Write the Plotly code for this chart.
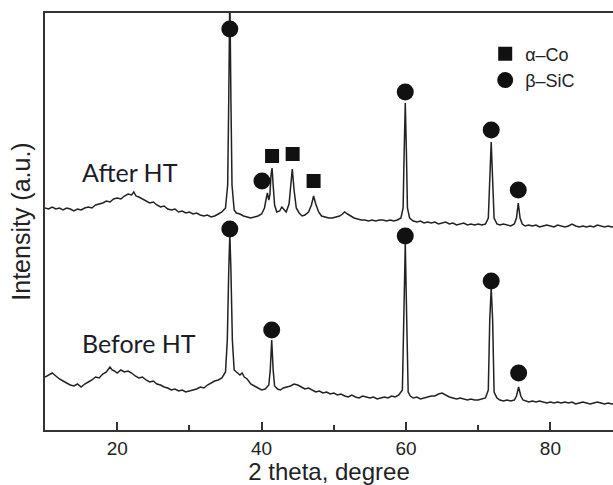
import plotly.graph_objects as go

# ---- data (2 theta in degrees, intensity in arbitrary units) ----
after_x = [10.0, 10.5, 11.0, 11.5, 12.0, 12.5, 13.0, 13.5, 14.0, 14.5, 15.0, 15.5, 16.0, 16.5,
           17.0, 17.5, 18.0, 18.5, 19.0, 19.5, 20.0, 20.5, 21.0, 21.5, 22.0, 22.3, 22.6, 23.0,
           23.5, 24.0, 24.5, 25.0, 25.5, 26.0, 26.5, 27.0, 27.5, 28.0, 28.5, 29.0, 29.5, 30.0,
           30.5, 31.0, 31.5, 32.0, 32.5, 33.0, 33.5, 34.0, 34.5, 35.0, 35.3, 35.45, 35.6, 35.75,
           35.9, 36.2, 36.5, 37.0, 37.5, 38.0, 38.5, 39.0, 39.5, 40.0, 40.4, 40.6, 40.8, 41.0,
           41.15, 41.3, 41.45, 41.6, 41.8, 42.1, 42.5, 42.8, 43.1, 43.4, 43.8, 44.0, 44.25, 44.5,
           44.8, 45.2, 45.6, 46.0, 46.5, 46.9, 47.2, 47.5, 47.9, 48.3, 48.8, 49.3, 49.8, 50.3,
           50.8, 51.2, 51.5, 51.9, 52.3, 52.8, 53.3, 53.8, 54.3, 54.8, 55.3, 55.8, 56.3, 56.8,
           57.3, 57.8, 58.3, 58.8, 59.3, 59.6, 59.75, 59.9, 60.05, 60.2, 60.5, 61.0, 61.5, 62.0,
           62.5, 63.0, 63.5, 64.0, 64.5, 65.0, 65.5, 66.0, 66.5, 67.0, 67.5, 68.0, 68.5, 69.0,
           69.5, 70.0, 70.5, 71.0, 71.4, 71.6, 71.8, 72.0, 72.2, 72.6, 73.0, 73.5, 74.0, 74.5,
           75.0, 75.3, 75.55, 75.8, 76.1, 76.5, 77.0, 77.5, 78.0, 78.5, 79.0, 79.5, 80.0, 80.5,
           81.0, 81.5, 82.0, 82.5, 83.0, 83.5, 84.0, 84.5, 85.0, 85.5, 86.0, 86.5, 87.0, 87.5,
           88.0, 88.5, 89.0]
after_y = [222, 221, 223, 221, 222, 220, 222, 221, 219, 221, 220, 222, 223, 222,
           225, 226, 227, 229, 228, 231, 232, 231, 234, 236, 235, 238, 234, 233,
           231, 229, 227, 228, 225, 223, 224, 221, 220, 221, 218, 219, 217, 218,
           216, 217, 215, 214, 215, 213, 214, 216, 218, 222, 245, 330, 440, 330,
           245, 220, 217, 216, 214, 213, 212, 213, 214, 216, 222, 230, 237, 230,
           235, 255, 262, 245, 225, 218, 219, 223, 220, 218, 226, 245, 261, 240,
           222, 217, 214, 215, 218, 225, 234, 226, 218, 214, 213, 212, 212, 213,
           214, 216, 218, 216, 214, 212, 211, 210, 210, 209, 210, 209, 210, 210,
           209, 210, 209, 210, 212, 222, 280, 327, 280, 222, 212, 209, 208, 209,
           207, 208, 207, 208, 206, 207, 208, 206, 207, 205, 206, 207, 205, 206,
           205, 206, 205, 206, 212, 250, 288, 250, 212, 206, 205, 206, 205, 204,
           206, 212, 227, 212, 206, 204, 205, 204, 205, 203, 204, 205, 204, 203,
           205, 204, 203, 204, 206, 204, 203, 204, 203, 204, 203, 205, 204, 203,
           204, 203, 204]

before_x = [10.0, 10.5, 11.0, 11.5, 12.0, 12.5, 13.0, 13.5, 14.0, 14.5, 15.0, 15.5, 16.0, 16.5,
            17.0, 17.5, 18.0, 18.5, 19.0, 19.3, 19.6, 20.0, 20.5, 21.0, 21.5, 22.0, 22.5, 23.0,
            23.5, 24.0, 24.5, 25.0, 25.5, 26.0, 26.5, 27.0, 27.5, 28.0, 28.5, 29.0, 29.5, 30.0,
            30.5, 31.0, 31.5, 32.0, 32.5, 33.0, 33.5, 34.0, 34.5, 35.0, 35.25, 35.45, 35.6, 35.75,
            35.95, 36.2, 36.5, 37.0, 37.3, 37.6, 38.0, 38.5, 39.0, 39.5, 40.0, 40.5, 41.0, 41.2,
            41.4, 41.6, 41.8, 42.2, 42.6, 43.0, 43.5, 44.0, 44.5, 45.0, 45.5, 46.0, 46.5, 47.0,
            47.5, 48.0, 48.5, 49.0, 49.5, 50.0, 50.5, 51.0, 51.5, 52.0, 52.5, 53.0, 53.5, 54.0,
            54.5, 55.0, 55.5, 56.0, 56.5, 57.0, 57.5, 58.0, 58.5, 59.0, 59.5, 59.7, 59.9, 60.1,
            60.3, 60.6, 61.0, 61.5, 62.0, 62.5, 63.0, 63.5, 64.0, 64.5, 65.0, 65.5, 66.0, 66.5,
            67.0, 67.5, 68.0, 68.5, 69.0, 69.5, 70.0, 70.5, 71.0, 71.4, 71.6, 71.8, 72.0, 72.2,
            72.6, 73.0, 73.5, 74.0, 74.5, 75.0, 75.3, 75.6, 75.9, 76.2, 76.5, 77.0, 77.5, 78.0,
            78.5, 79.0, 79.5, 80.0, 80.5, 81.0, 81.5, 82.0, 82.5, 83.0, 83.5, 84.0, 84.5, 85.0,
            85.5, 86.0, 86.5, 87.0, 87.5, 88.0, 88.5, 89.0]
before_y = [53, 55, 57, 54, 51, 49, 47, 45, 44, 46, 43, 46, 48, 50,
            53, 52, 56, 58, 63, 60, 59, 57, 60, 58, 59, 57, 54, 52,
            53, 50, 48, 49, 46, 45, 43, 42, 40, 41, 39, 40, 38, 39,
            40, 41, 43, 42, 45, 47, 49, 50, 52, 58, 90, 160, 196, 160,
            90, 60, 58, 55, 57, 53, 51, 46, 44, 42, 40, 41, 45, 60,
            90, 60, 44, 41, 40, 42, 43, 44, 46, 45, 43, 41, 42, 40,
            38, 39, 37, 38, 36, 37, 35, 36, 34, 33, 35, 33, 32, 34,
            33, 32, 33, 31, 32, 33, 32, 34, 33, 35, 40, 110, 187, 110,
            38, 34, 32, 33, 31, 32, 33, 34, 34, 36, 37, 35, 33, 32,
            31, 32, 31, 30, 31, 30, 30, 31, 32, 40, 110, 142, 110, 38,
            32, 30, 29, 30, 29, 30, 34, 43, 34, 30, 29, 28, 29, 28,
            29, 28, 27, 28, 27, 28, 27, 28, 27, 28, 26, 27, 28, 27,
            26, 27, 28, 27, 26, 27, 26, 27]

# phase markers
sic_x = [35.6, 40.05, 59.9, 71.8, 75.55, 35.6, 41.4, 59.9, 71.8, 75.6]
sic_y = [401, 249, 338, 300, 240, 201, 100, 194, 149, 57]
co_x = [41.45, 44.3, 47.2]
co_y = [274, 276, 249]

x_ticks = [20, 40, 60, 80]
sample_labels = ["After HT", "Before HT"]
label_x = [14.85, 14.85]
label_y = [258, 87]

LINE = "#222222"

fig = go.Figure()
fig.add_trace(go.Scatter(x=after_x, y=after_y, mode="lines",
                         line=dict(color=LINE, width=1.5), showlegend=False))
fig.add_trace(go.Scatter(x=before_x, y=before_y, mode="lines",
                         line=dict(color=LINE, width=1.5), showlegend=False))
fig.add_trace(go.Scatter(x=co_x, y=co_y, mode="markers", name="α–Co", legendgroup="co",
                         marker=dict(symbol="square", size=14, color="#111111")))
fig.add_trace(go.Scatter(x=sic_x, y=sic_y, mode="markers", name="β–SiC", legendgroup="sic",
                         marker=dict(symbol="circle", size=17, color="#111111")))

for t, lx, ly in zip(sample_labels, label_x, label_y):
    fig.add_annotation(x=lx, y=ly, text=t, showarrow=False, xanchor="left", yanchor="middle",
                       font=dict(family="Lato", size=25, color="#1c1c26"))

fig.update_layout(
    width=613, height=485,
    margin=dict(l=45, r=0, t=13, b=55),
    paper_bgcolor="white", plot_bgcolor="white",
    font=dict(family="Liberation Sans, Arial", color="#222222"),
    legend=dict(x=0.775, y=0.946, xanchor="left", yanchor="top",
                font=dict(size=18, color="#222222"), tracegroupgap=0,
                bgcolor="rgba(0,0,0,0)"),
    xaxis=dict(range=[10, 88.67], tickmode="array", tickvals=x_ticks,
               ticks="inside", ticklen=8, tickwidth=1.5, tickcolor="#333333",
               minor=dict(tickvals=[30, 50, 70], ticks="inside", ticklen=5,
                          tickwidth=1.5, tickcolor="#333333"),
               showline=True, linewidth=1.6, linecolor="#333333", mirror=True,
               showgrid=False, zeroline=False, automargin=False,
               tickfont=dict(size=19),
               title=dict(text="2 theta, degree", font=dict(size=24), standoff=9)),
    yaxis=dict(range=[0, 417], showticklabels=False, ticks="",
               showline=True, linewidth=1.6, linecolor="#333333",
               showgrid=False, zeroline=False,
               title=dict(text="Intensity (a.u.)", font=dict(size=25), standoff=5)),
)

fig.write_html("out.html", config={"displayModeBar": False},
               post_script="document.body.style.margin='0';document.body.style.overflow='hidden';")
